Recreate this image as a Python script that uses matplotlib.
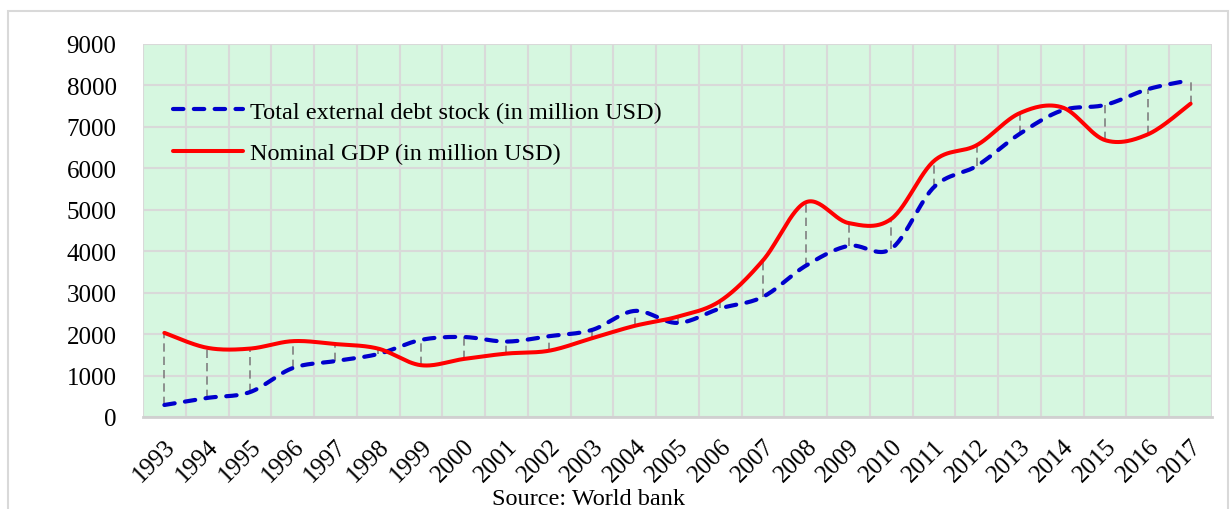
import numpy as np
import matplotlib
matplotlib.use('Agg')
import matplotlib.pyplot as plt
from matplotlib.patches import Rectangle

plt.rcParams['font.family'] = ['Liberation Serif', 'DejaVu Serif']

# data (million USD)
years = [str(y) for y in range(1993, 2018)]
debt = [290, 460, 600, 1180, 1350, 1520, 1860, 1930, 1820, 1950, 2100, 2560, 2270,
        2620, 2900, 3650, 4130, 4060, 5550, 6060, 6830, 7400, 7530, 7910, 8130]
gdp = [2030, 1670, 1650, 1830, 1760, 1650, 1250, 1400, 1530, 1600, 1900, 2200, 2420,
       2800, 3780, 5180, 4680, 4780, 6180, 6560, 7330, 7470, 6680, 6820, 7560]


def smooth(xs, ys, n=30):
    # catmull-rom style bezier smoothing (like excel "smoothed line")
    xs = np.asarray(xs, float)
    ys = np.asarray(ys, float)
    px, py = [], []
    m = len(xs)
    for i in range(m - 1):
        i0 = max(i - 1, 0)
        i3 = min(i + 2, m - 1)
        p0 = np.array([xs[i], ys[i]])
        p3 = np.array([xs[i + 1], ys[i + 1]])
        p1 = p0 + (p3 - np.array([xs[i0], ys[i0]])) / 6
        p2 = p3 - (np.array([xs[i3], ys[i3]]) - p0) / 6
        t = np.linspace(0, 1, n)[:, None]
        b = ((1 - t) ** 3) * p0 + 3 * ((1 - t) ** 2) * t * p1 + 3 * (1 - t) * t ** 2 * p2 + t ** 3 * p3
        px.extend(b[:, 0])
        py.extend(b[:, 1])
    return np.array(px), np.array(py)


x = np.arange(len(years))

fig = plt.figure(figsize=(12.32, 5.10), dpi=100)
ax = fig.add_axes([143 / 1232, 92 / 510, 1069 / 1232, 373 / 510])
ax.set_facecolor('#D6F7E0')

# outer chart border
fig.patches.append(Rectangle((8 / 1232, -0.1), 1220 / 1232, 1.1 - 12 / 510,
                             transform=fig.transFigure, fill=False,
                             edgecolor='#D9D9D9', lw=1.5, zorder=0))

# drop lines
for i in x:
    ax.plot([i, i], [min(debt[i], gdp[i]), max(debt[i], gdp[i])], color='#808080',
            lw=1.2, dashes=(5, 3), zorder=2)

sx, sy = smooth(x, debt)
ax.plot(sx, sy, color='#0000CC', lw=3, dashes=(2.5, 2.5), dash_capstyle='round',
        label='Total external debt stock (in million USD)', zorder=3)
sx, sy = smooth(x, gdp)
ax.plot(sx, sy, color='#FF0000', lw=2.9, solid_capstyle='round',
        label='Nominal GDP (in million USD)', zorder=4)

ax.set_xlim(-0.5, len(years) - 0.5)
ax.set_ylim(0, 9000)
ax.set_yticks(np.arange(0, 9001, 1000))
ax.set_xticks(x)
ax.set_xticklabels(years, rotation=45, ha='right', va='top', rotation_mode='anchor')
ax.set_xticks(np.arange(-0.5, len(years)), minor=True)
ax.tick_params(axis='both', which='both', length=0, labelsize=18)
ax.tick_params(axis='y', pad=19)
ax.tick_params(axis='x', pad=13)
ax.grid(True, axis='y', which='major', color='#D9D9D9', lw=1.5)
ax.grid(True, axis='x', which='minor', color='#D9D9D9', lw=1.5)
ax.set_axisbelow(True)
for s in ['top', 'right', 'left']:
    ax.spines[s].set_visible(False)
ax.spines['bottom'].set_color('#D0D0D0')
ax.spines['bottom'].set_linewidth(2)

ax.legend(loc='upper left', bbox_to_anchor=(0.0075, 0.906), frameon=False, fontsize=17.5,
          handlelength=2.9, handletextpad=0.29, labelspacing=0.8)

fig.text(588 / 1232, 5 / 510, 'Source: World bank', ha='center', va='baseline', fontsize=17.5)

fig.savefig('out.png', dpi=100)
